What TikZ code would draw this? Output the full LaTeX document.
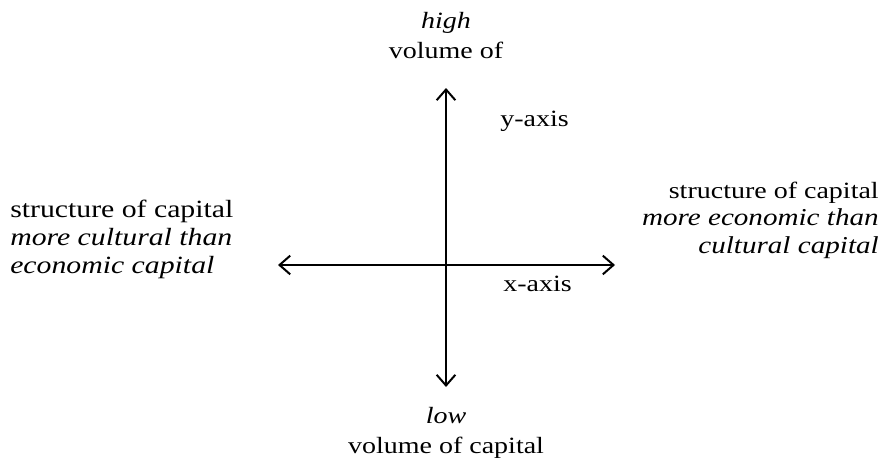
\documentclass[tikz,border=0pt]{standalone}
\usepackage{fontspec}
\setmainfont{Liberation Serif}[FakeStretch=1.2]
\usepackage{tikz}
\usetikzlibrary{arrows.meta,positioning}

\begin{document}
\begin{tikzpicture}[x=0.75pt, y=-0.75pt,
    axis/.style={line width=1.5pt, {Straight Barb[length=8pt,width=14pt,line width=1.5pt]}-{Straight Barb[length=8pt,width=14pt,line width=1.5pt]}},
    lbl/.style={inner sep=0pt, font=\fontsize{17.5pt}{21pt}\selectfont},
    biglbl/.style={inner sep=0pt, font=\fontsize{18.6pt}{21pt}\selectfont},
    itlbl/.style={inner sep=0pt, font=\fontsize{18.2pt}{21pt}\selectfont\itshape}]

  \useasboundingbox (0,0) rectangle (883,471);

  % Axis ends
  \coordinate (top) at (446,88);
  \coordinate (bottom) at (446,387);
  \coordinate (west) at (278,265);
  \coordinate (east) at (615,265);

  % Axes
  \draw[axis] (bottom) -- (top);
  \draw[axis] (west) -- (east);

  % Volume labels
  \node[lbl, anchor=base] (high) at (446,28) {\textit{high}};
  \node[lbl, anchor=base] (volhigh) at (446,58) {volume of};
  \node[lbl, anchor=base] (low) at (446,423) {\textit{low}};
  \node[lbl, anchor=base] (vollow) at (446,453) {volume of capital};

  % Axis names
  \node[lbl, anchor=base west] (yaxis) at (500,126) {y-axis};
  \node[lbl, anchor=base west] (xaxis) at (503,291) {x-axis};

  % Structure labels
  \node[biglbl, anchor=base west] (left1) at (10,217) {structure of capital};
  \node[biglbl, anchor=base west] (left2) at (10,245) {\textit{more cultural than}};
  \node[biglbl, anchor=base west] (left3) at (10,273) {\textit{economic capital}};
  \node[lbl, anchor=base east] (right1) at (879,198) {structure of capital};
  \node[itlbl, anchor=base east] (right2) at (879,225) {more economic than};
  \node[itlbl, anchor=base east] (right3) at (879,253) {cultural capital};

\end{tikzpicture}
\end{document}
